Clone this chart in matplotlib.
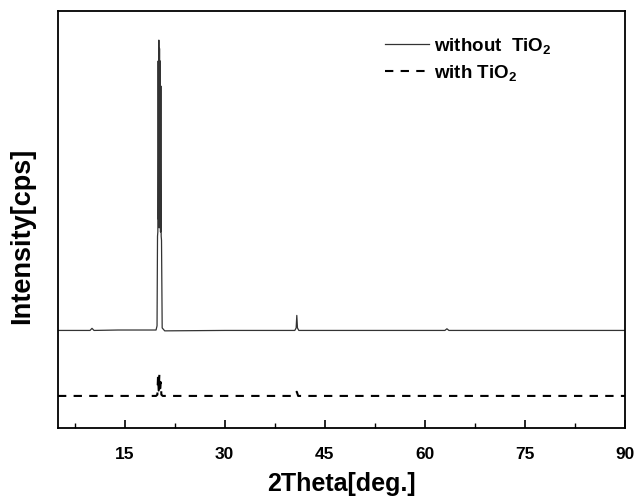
import matplotlib
matplotlib.use('Agg')
import matplotlib.pyplot as plt

plt.rcParams['font.family'] = ['Liberation Sans', 'DejaVu Sans']
plt.rcParams['font.weight'] = 'bold'
plt.rcParams['mathtext.fontset'] = 'custom'
plt.rcParams['mathtext.rm'] = 'Liberation Sans:bold'
plt.rcParams['mathtext.bf'] = 'Liberation Sans:bold'
plt.rcParams['mathtext.default'] = 'bf'

# Datos (intensidad en unidades arbitrarias)
two_theta_a = [5, 8, 9.8, 10.1, 10.4, 14, 19.7, 19.85, 19.92,
               19.97, 20.02, 20.07, 20.12, 20.17, 20.22, 20.27, 20.32,
               20.37, 20.42, 20.47, 20.52, 20.62, 21, 30,
               40.5, 40.7, 40.8, 40.9, 41.1, 50, 63.0, 63.3, 63.6, 90]
intensity_a = [23.4, 23.4, 23.4, 23.9, 23.4, 23.5, 23.5, 24.5, 46,
               47, 88, 50, 93, 48, 91, 52, 88,
               47, 82, 46, 45, 24, 23.3, 23.4,
               23.4, 24.0, 27.0, 24.0, 23.4, 23.4, 23.4, 23.8, 23.4, 23.4]

two_theta_b = [5, 19.7, 19.9, 20.0, 20.1, 20.2, 20.3, 20.4, 20.5, 20.7,
               40.4, 40.6, 40.8, 41.0, 90]
intensity_b = [7.7, 7.7, 8.0, 12.5, 9.0, 12.9, 8.5, 11.0, 8.0, 7.7,
               7.7, 8.3, 8.7, 7.7, 7.7]

labels = ['without  TiO$_2$', 'with TiO$_2$']

fig = plt.figure(figsize=(6.35, 4.96), dpi=100)
ax = fig.add_axes([0.0913, 0.137, 0.893, 0.841])

ax.plot(two_theta_a, intensity_a, color='#333333', linewidth=0.9, label=labels[0])
ax.plot(two_theta_b, intensity_b, color='black', linewidth=1.5,
        dashes=(4, 3.5), label=labels[1])

ax.set_xlim(5, 90)
ax.set_ylim(0, 100)
ax.set_xticks([15, 30, 45, 60, 75, 90])
ax.set_xticks([7.5, 22.5, 37.5, 52.5, 67.5, 82.5], minor=True)
ax.set_yticks([])
ax.tick_params(axis='x', which='major', direction='in', length=6, width=1.2,
               labelsize=12.5, pad=14)
ax.tick_params(axis='x', which='minor', direction='in', length=3.5, width=1.0)
for lab in ax.get_xticklabels():
    lab.set_fontweight('bold')
for s in ax.spines.values():
    s.set_linewidth(1.3)

ax.set_xlabel('2Theta[deg.]', fontsize=18, fontweight='bold', labelpad=7)
ax.set_ylabel('Intensity[cps]', fontsize=19.5, fontweight='bold')
ax.yaxis.set_label_coords(-0.040, 0.46)

ax.legend(loc='upper left', bbox_to_anchor=(0.577, 0.94), frameon=False,
          fontsize=13.5, handlelength=2.35, handletextpad=0.25,
          labelspacing=0.35, borderpad=0, borderaxespad=0)

plt.savefig('out.png', dpi=100)
plt.close()
